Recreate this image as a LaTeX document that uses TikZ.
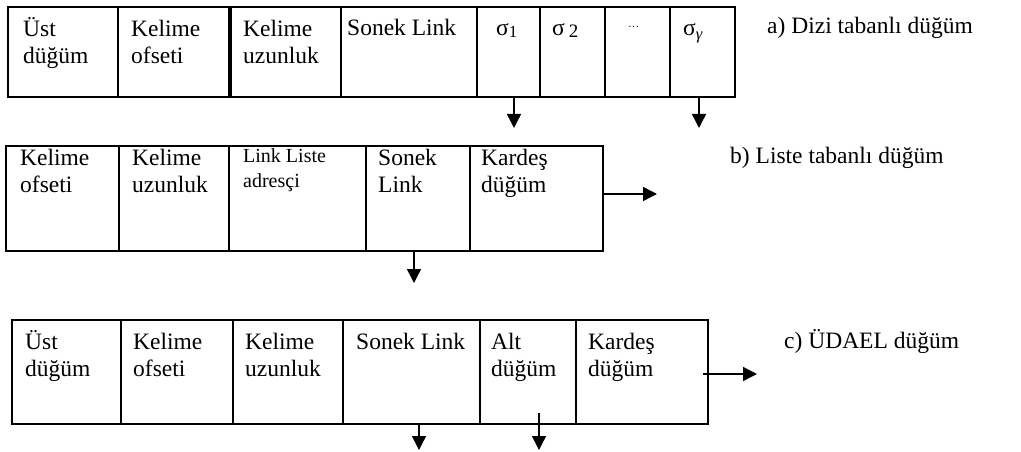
\documentclass[tikz,border=0pt]{standalone}
\usepackage{fontspec}
\setmainfont{Liberation Serif}
\usetikzlibrary{arrows.meta}
\begin{document}
\begin{tikzpicture}[x=1pt,y=-1pt,
  cell/.style={draw,line width=1.3pt,rectangle,inner sep=0pt,outer sep=0pt,anchor=north west},
  frame/.style={draw,line width=2pt},
  txt/.style={anchor=base west,inner sep=0pt,align=left,font=\fontsize{23.5}{27.5}\selectfont},
  smalltxt/.style={anchor=base west,inner sep=0pt,align=left,font=\fontsize{20}{25}\selectfont},
  link/.style={line width=1.4pt,-{Triangle[length=14pt,width=14pt]}},
]
\useasboundingbox (0,0) rectangle (1021,452);

% ---- a) array based node ----
\node[cell,minimum width=110pt,minimum height=90pt] (a1) at (8,7) {};
\node[cell,minimum width=111pt,minimum height=90pt] (a2) at (118,7) {};
\node[cell,minimum width=110pt,minimum height=90pt] (a3) at (231,7) {};
\node[cell,minimum width=136pt,minimum height=90pt] (a4) at (341,7) {};
\node[cell,minimum width=63pt,minimum height=90pt] (a5) at (477,7) {};
\node[cell,minimum width=65pt,minimum height=90pt] (a6) at (540,7) {};
\node[cell,minimum width=65pt,minimum height=90pt] (a7) at (605,7) {};
\node[cell,minimum width=65pt,minimum height=90pt] (a8) at (670,7) {};
\draw[frame] (a1.north west) rectangle (a8.south east);

% two-line texts are placed by the baseline of their last line
\node[txt] (ta1) at (23,63.5) {Üst\\düğüm};
\node[txt] (ta2) at (131,63.5) {Kelime\\ofseti};
\node[txt] (ta3) at (243,63.5) {Kelime\\uzunluk};
\node[txt] (ta4) at (347,36) {Sonek Link};
\node[txt] (ta5) at (496,36) {σ\raisebox{-2pt}{\fontsize{17}{17}\selectfont 1}};
\node[txt] (ta6) at (552,36) {σ\,\raisebox{-2pt}{\fontsize{19}{19}\selectfont 2}};
\node[txt] (ta7) at (628,31) {\fontsize{11}{11}\selectfont ···};
\node[txt] (ta8) at (683,36) {σ\textsubscript{\itshape γ}};
\node[txt] (la) at (767,34) {a) Dizi tabanlı düğüm};

\coordinate (a5s) at (514,97);
\coordinate (a5e) at (514,128);
\coordinate (a8s) at (699,97);
\coordinate (a8e) at (699,128);
\draw[link] (a5s) -- (a5e);
\draw[link] (a8s) -- (a8e);

% ---- b) list based node ----
\node[cell,minimum width=113pt,minimum height=105pt] (b1) at (6,146) {};
\node[cell,minimum width=110pt,minimum height=105pt] (b2) at (119,146) {};
\node[cell,minimum width=137pt,minimum height=105pt] (b3) at (229,146) {};
\node[cell,minimum width=104pt,minimum height=105pt] (b4) at (366,146) {};
\node[cell,minimum width=133pt,minimum height=105pt] (b5) at (470,146) {};
\draw[frame] (b1.north west) rectangle (b5.south east);

\node[txt] (tb1) at (20,192.5) {Kelime\\ofseti};
\node[txt] (tb2) at (132,192.5) {Kelime\\uzunluk};
\node[smalltxt] (tb3) at (243,187) {Link Liste\\adresçi};
\node[txt] (tb4) at (378,192.5) {Sonek\\Link};
\node[txt] (tb5) at (481,192.5) {Kardeş\\düğüm};
\node[txt] (lb) at (730,164) {b) Liste tabanlı düğüm};

\coordinate (b4s) at (414,251);
\coordinate (b4e) at (414,283);
\coordinate (b5e) at (657,194);
\draw[link] (b4s) -- (b4e);
\draw[link] (b5.east |- b5e) -- (b5e);

% ---- c) ÜDAEL node ----
\node[cell,minimum width=109pt,minimum height=104pt] (c1) at (12,320) {};
\node[cell,minimum width=112pt,minimum height=104pt] (c2) at (121,320) {};
\node[cell,minimum width=110pt,minimum height=104pt] (c3) at (233,320) {};
\node[cell,minimum width=137pt,minimum height=104pt] (c4) at (343,320) {};
\node[cell,minimum width=96pt,minimum height=104pt] (c5) at (480,320) {};
\node[cell,minimum width=132pt,minimum height=104pt] (c6) at (576,320) {};
\draw[frame] (c1.north west) rectangle (c6.south east);

\node[txt] (tc1) at (25,376.5) {Üst\\düğüm};
\node[txt] (tc2) at (133,376.5) {Kelime\\ofseti};
\node[txt] (tc3) at (245,376.5) {Kelime\\uzunluk};
\node[txt] (tc4) at (356,349) {Sonek Link};
\node[txt] (tc5) at (491,376.5) {Alt\\düğüm};
\node[txt] (tc6) at (588,376.5) {Kardeş\\düğüm};
\node[txt] (lc) at (784,348) {c) ÜDAEL düğüm};

\coordinate (c4s) at (419,424);
\coordinate (c4e) at (419,450);
\coordinate (c5s) at (539,413);
\coordinate (c5e) at (539,450);
\coordinate (c6s) at (703,374);
\coordinate (c6e) at (757,374);
\draw[link] (c4s) -- (c4e);
\draw[link] (c5s) -- (c5e);
\draw[link] (c6s) -- (c6e);
\end{tikzpicture}
\end{document}
